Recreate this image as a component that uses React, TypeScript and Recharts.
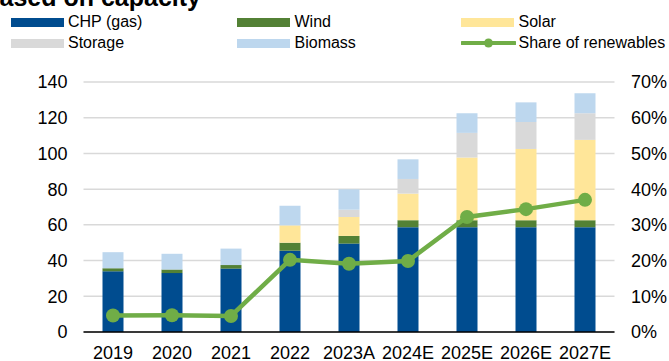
import React from "react";
import {
  ComposedChart,
  Bar,
  Line,
  XAxis,
  YAxis,
  CartesianGrid,
} from "recharts";

const years = ["2019", "2020", "2021", "2022", "2023A", "2024E", "2025E", "2026E", "2027E"];
const chp = [34, 33, 35.5, 45.5, 49.5, 58.7, 58.7, 58.7, 58.7];
const wind = [1.7, 2, 2, 4.5, 4.3, 3.9, 3.9, 3.9, 3.9];
const solar = [0, 0, 0, 9.7, 10.6, 14.9, 35.1, 39.9, 45];
const storage = [0, 0, 0, 0, 4.1, 8.2, 13.8, 15.1, 14.9];
const biomass = [9, 8.8, 9.2, 11, 11.4, 11, 11, 11, 11.2];
const shareOfRenewables = [4.6, 4.7, 4.5, 20.2, 19.1, 19.9, 32.2, 34.4, 37.0];

const leftTicks = [0, 20, 40, 60, 80, 100, 120, 140];
const rightTicks = [0, 10, 20, 30, 40, 50, 60, 70];

const FONT = '"Liberation Sans", Arial, sans-serif';

const colors = {
  chp: "#004c8f",
  wind: "#538135",
  solar: "#ffe699",
  storage: "#d9d9d9",
  biomass: "#bdd7ee",
  share: "#70ad47",
};

const legendItems = [
  { label: "CHP (gas)", color: colors.chp, kind: "box" },
  { label: "Wind", color: colors.wind, kind: "box" },
  { label: "Solar", color: colors.solar, kind: "box" },
  { label: "Storage", color: colors.storage, kind: "box" },
  { label: "Biomass", color: colors.biomass, kind: "box" },
  { label: "Share of renewables", color: colors.share, kind: "line" },
];

const data = years.map((year, i) => ({
  year,
  chp: chp[i],
  wind: wind[i],
  solar: solar[i],
  storage: storage[i],
  biomass: biomass[i],
  share: shareOfRenewables[i],
}));

const colX = [10.5, 237, 461];
const rowY = [22, 43];

const ChartLegend = () => (
  <div style={{ position: "absolute", left: 0, top: 0, width: 669, height: 60 }}>
    {legendItems.map((item, i) => {
      const x = colX[i % 3];
      const y = rowY[Math.floor(i / 3)];
      return (
        <div
          key={item.label}
          style={{
            position: "absolute",
            left: x,
            top: y - 10,
            height: 20,
            display: "flex",
            alignItems: "center",
            fontFamily: FONT,
            fontSize: 16,
            color: "#000",
            whiteSpace: "nowrap",
          }}
        >
          {item.kind === "box" ? (
            <div style={{ width: 53, height: 9, background: item.color }} />
          ) : (
            <svg width={55} height={12}>
              <line x1={1} y1={6} x2={54} y2={6} stroke={item.color} strokeWidth={4} strokeLinecap="round" />
              <circle cx={27.5} cy={6} r={4.5} fill={item.color} />
            </svg>
          )}
          <span style={{ marginLeft: item.kind === "box" ? 4.5 : 2.5 }}>{item.label}</span>
        </div>
      );
    })}
  </div>
);

export default function App() {
  return (
    <div style={{ position: "absolute", left: 0, top: 0, width: 669, height: 361, background: "#fff", overflow: "hidden" }}>
      <svg style={{ position: "absolute", left: 0, top: 0 }} width={669} height={20}>
        <text x={201} y={6} textAnchor="end" fontFamily={FONT} fontWeight="bold" fontSize={25} fill="#000">
          based on capacity
        </text>
      </svg>
      <ChartLegend />
      <ComposedChart
        width={669}
        height={361}
        data={data}
        margin={{ top: 82, right: 0, bottom: 0, left: 0 }}
        style={{ position: "absolute", left: 0, top: 0 }}
      >
        <CartesianGrid vertical={false} stroke="#d9d9d9" strokeWidth={1.5} yAxisId="left" />
        <XAxis
          dataKey="year"
          height={29}
          tickLine={false}
          tickSize={0}
          tickMargin={14.5}
          axisLine={{ stroke: "#000", strokeWidth: 1.5 }}
          tick={{ fill: "#000", fontSize: 18, fontFamily: FONT }}
          interval={0}
        />
        <YAxis
          yAxisId="left"
          width={83.5}
          domain={[0, 140]}
          ticks={leftTicks}
          axisLine={false}
          tickLine={false}
          tickSize={0}
          tickMargin={16}
          tick={{ fill: "#000", fontSize: 18, fontFamily: FONT }}
        />
        <YAxis
          yAxisId="right"
          orientation="right"
          width={54.5}
          domain={[0, 70]}
          ticks={rightTicks}
          axisLine={false}
          tickLine={false}
          tickSize={0}
          tickMargin={16.5}
          tickFormatter={(v: number) => `${v}%`}
          tick={{ fill: "#000", fontSize: 18, fontFamily: FONT }}
        />
        <Bar yAxisId="left" dataKey="chp" stackId="a" fill={colors.chp} barSize={21} isAnimationActive={false} />
        <Bar yAxisId="left" dataKey="wind" stackId="a" fill={colors.wind} barSize={21} isAnimationActive={false} />
        <Bar yAxisId="left" dataKey="solar" stackId="a" fill={colors.solar} barSize={21} isAnimationActive={false} />
        <Bar yAxisId="left" dataKey="storage" stackId="a" fill={colors.storage} barSize={21} isAnimationActive={false} />
        <Bar yAxisId="left" dataKey="biomass" stackId="a" fill={colors.biomass} barSize={21} isAnimationActive={false} />
        <Line
          yAxisId="right"
          dataKey="share"
          stroke={colors.share}
          strokeWidth={4.5}
          dot={{ r: 7, fill: colors.share, stroke: "none" }}
          activeDot={false}
          isAnimationActive={false}
        />
      </ComposedChart>
    </div>
  );
}
